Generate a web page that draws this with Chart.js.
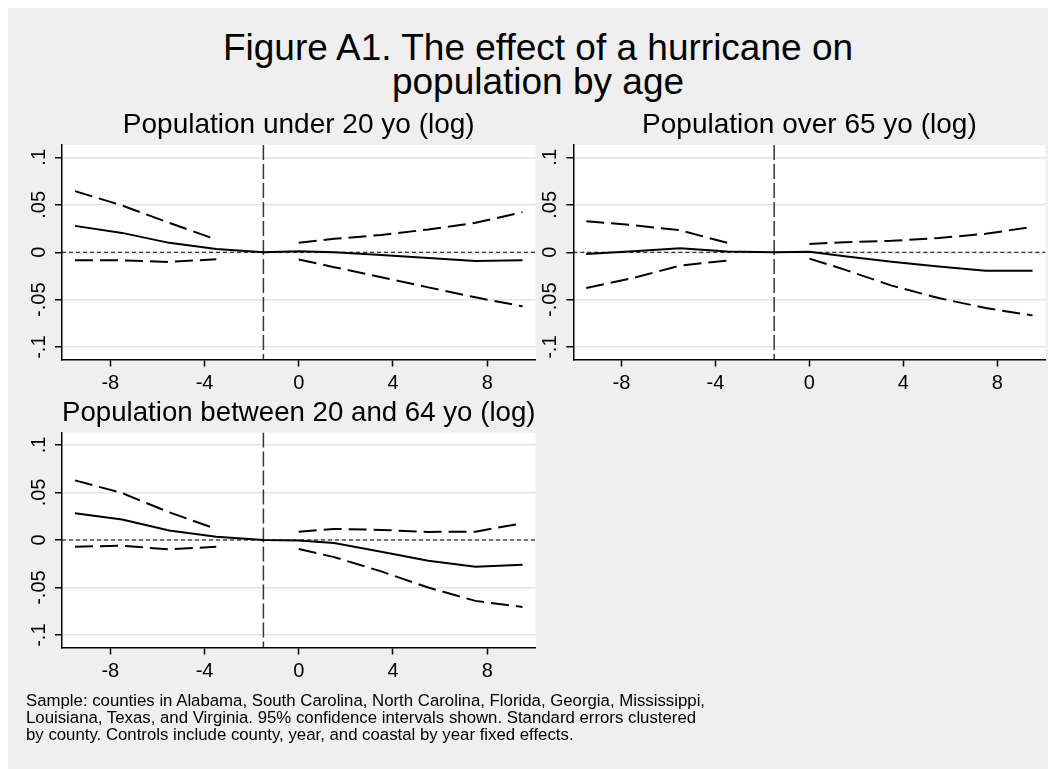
<!DOCTYPE html>
<html><head><meta charset="utf-8">
<script src="https://cdn.jsdelivr.net/npm/chart.js@4.4.1/dist/chart.umd.min.js"></script>
<style>
html,body{margin:0;padding:0;background:#fff;}
body{width:1048px;height:769px;position:relative;overflow:hidden;font-family:'Liberation Sans',Arial,sans-serif;}
#bg{position:absolute;left:8px;top:8px;width:1040px;height:761px;background:#efefef;}
#title{position:absolute;left:38px;top:31px;width:1000px;text-align:center;font-size:37px;line-height:34px;color:#000;}
#note{position:absolute;left:26px;top:692px;font-size:16.8px;line-height:17px;color:#000;white-space:nowrap;}
canvas{position:absolute;}
</style></head><body>
<div id="bg"></div>
<div id="title">Figure A1. The effect of a hurricane on<br>population by age</div>
<canvas id="c1" width="530" height="305" style="left:8px;top:90px"></canvas>
<canvas id="c2" width="510" height="305" style="left:538px;top:90px"></canvas>
<canvas id="c3" width="530" height="300" style="left:8px;top:395px"></canvas>
<div id="note">Sample: counties in Alabama, South Carolina, North Carolina, Florida, Georgia, Mississippi,<br>Louisiana, Texas, and Virginia. 95% confidence intervals shown. Standard errors clustered<br>by county. Controls include county, year, and coastal by year fixed effects.</div>
<script>
// ---- data ----
const years = [-9.5, -7.5, -5.5, -3.5, -1.5, 0, 1.5, 3.5, 5.5, 7.5, 9.5];
const eventX = -1.5;
const zeroLine = 0;
const xTickVals = [-8, -4, 0, 4, 8];
const xTickLabels = ['-8', '-4', '0', '4', '8'];
const yTickVals = [-0.1, -0.05, 0, 0.05, 0.1];
const yTickLabels = ['-.1', '-.05', '0', '.05', '.1'];

const titles = ['Population under 20 yo (log)', 'Population over 65 yo (log)', 'Population between 20 and 64 yo (log)'];

const coefUnder20 = [0.0278, 0.0204, 0.0099, 0.0035, 0, 0.001, 0.0000, -0.0028, -0.0060, -0.0092, -0.0085];
const upperUnder20 = [0.0644, 0.0493, 0.0310, 0.0134, null, 0.0099, 0.0141, 0.0183, 0.0240, 0.0310, 0.0423];
const lowerUnder20 = [-0.0085, -0.0085, -0.0102, -0.0074, null, -0.0077, -0.0157, -0.0263, -0.0370, -0.0475, -0.0570];

const coefOver65 = [-0.0018, 0.0010, 0.0042, 0.0007, 0, 0.0004, -0.0042, -0.0099, -0.0151, -0.0194, -0.0194];
const upperOver65 = [0.0327, 0.0285, 0.0232, 0.0099, null, 0.0088, 0.0106, 0.0120, 0.0151, 0.0194, 0.0268];
const lowerOver65 = [-0.0377, -0.0271, -0.0141, -0.0088, null, -0.0067, -0.0183, -0.0352, -0.0482, -0.0588, -0.0665];

const coef20to64 = [0.0282, 0.0215, 0.0099, 0.0035, 0, -0.0004, -0.0032, -0.0123, -0.0218, -0.0282, -0.0260];
const upper20to64 = [0.0627, 0.0493, 0.0292, 0.0116, null, 0.0088, 0.0116, 0.0106, 0.0085, 0.0088, 0.0176];
const lower20to64 = [-0.0070, -0.0060, -0.0099, -0.0070, null, -0.0095, -0.0180, -0.0330, -0.0500, -0.0640, -0.0704];

// ---- chart ----
const FAMILY = "'Liberation Sans', Arial, sans-serif";
Chart.defaults.font.family = FAMILY;
Chart.defaults.color = '#000';

const refPlugin = {
  id: 'stataRefs',
  beforeDraw(chart) {
    const {ctx, chartArea: a} = chart;
    ctx.save();
    ctx.fillStyle = '#ffffff';
    ctx.fillRect(a.left, a.top, a.right - a.left, a.bottom - a.top);
    ctx.restore();
  },
  beforeDatasetsDraw(chart) {
    const {ctx, chartArea: a, scales: {x, y}} = chart;
    ctx.save();
    ctx.beginPath(); ctx.rect(a.left, a.top, a.right - a.left, a.bottom - a.top); ctx.clip();
    const y0 = y.getPixelForValue(zeroLine);
    ctx.strokeStyle = '#000'; ctx.lineWidth = 1.2; ctx.setLineDash([4, 3]);
    ctx.beginPath(); ctx.moveTo(a.left, y0); ctx.lineTo(a.right, y0); ctx.stroke();
    const xe = x.getPixelForValue(eventX);
    ctx.strokeStyle = '#333'; ctx.lineWidth = 1.5; ctx.setLineDash([15, 4]);
    ctx.beginPath(); ctx.moveTo(xe, a.top); ctx.lineTo(xe, a.bottom); ctx.stroke();
    ctx.restore();
  },
  afterDraw(chart) {
    const {ctx, chartArea: a, scales: {y}} = chart;
    ctx.save();
    ctx.font = '20px ' + FAMILY;
    ctx.fillStyle = '#000'; ctx.textAlign = 'center'; ctx.textBaseline = 'alphabetic';
    yTickVals.forEach((v, i) => {
      const py = y.getPixelForValue(v);
      ctx.save(); ctx.translate(a.left - 17, py); ctx.rotate(-Math.PI / 2);
      ctx.fillText(yTickLabels[i], 0, 0); ctx.restore();
    });
    ctx.restore();
  }
};

function makeChart(id, title, coef, upper, lower, yAxisW, xAxisH, tPadTop, tPadBottom) {
  const pts = arr => years.map((x, i) => ({x: x, y: arr[i]}));
  const ciStyle = {borderColor: '#000', borderWidth: 2, borderDash: [18, 7], pointRadius: 0, fill: false, tension: 0, spanGaps: false};
  return new Chart(document.getElementById(id), {
    type: 'line',
    data: {datasets: [
      Object.assign({data: pts(upper)}, ciStyle),
      Object.assign({data: pts(lower)}, ciStyle),
      {data: pts(coef), borderColor: '#000', borderWidth: 2, pointRadius: 0, fill: false, tension: 0}
    ]},
    options: {
      responsive: false, animation: false, devicePixelRatio: 1,
      layout: {padding: {left: 0, right: 2.5, top: 0, bottom: 0}},
      plugins: {
        legend: {display: false}, tooltip: {enabled: false},
        title: {display: true, text: title, fullSize: false, color: '#000',
          font: {size: 28, family: FAMILY, weight: 'normal', lineHeight: 1.2},
          padding: {top: tPadTop, bottom: tPadBottom}}
      },
      scales: {
        x: {
          type: 'linear', min: -10.05, max: 10.05,
          afterBuildTicks: s => { s.ticks = xTickVals.map(v => ({value: v})); },
          afterFit: s => { s.height = xAxisH; },
          ticks: {callback: (v, i) => xTickLabels[i], font: {size: 20, family: FAMILY}, color: '#000', padding: 5, maxRotation: 0, minRotation: 0, autoSkip: false},
          grid: {drawOnChartArea: false, tickColor: '#000', tickLength: 7, tickWidth: 1.5},
          border: {display: true, color: '#000', width: 1.5}
        },
        y: {
          type: 'linear', min: -0.113, max: 0.113,
          afterBuildTicks: s => { s.ticks = yTickVals.map(v => ({value: v})); },
          afterFit: s => { s.width = yAxisW; },
          ticks: {display: false},
          grid: {color: '#e4e4e4', lineWidth: 1.5, tickColor: '#000', tickLength: 7, tickWidth: 1.5},
          border: {display: true, color: '#000', width: 1.5}
        }
      }
    },
    plugins: [refPlugin]
  });
}

makeChart('c1', titles[0], coefUnder20, upperUnder20, lowerUnder20, 54, 35.5, 18.5, 2.9);
makeChart('c2', titles[1], coefOver65, upperOver65, lowerOver65, 35.3, 35.5, 18.5, 2.9);
makeChart('c3', titles[2], coef20to64, upper20to64, lower20to64, 54, 47.5, 1.8, 2.1);
</script>
</body></html>
